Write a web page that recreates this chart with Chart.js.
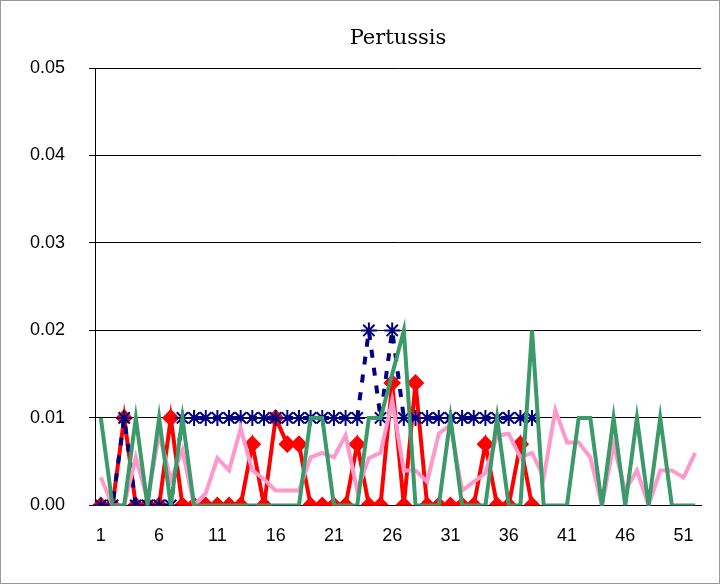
<!DOCTYPE html>
<html><head><script src="https://cdn.jsdelivr.net/npm/chart.js"></script>
<style>body{margin:0;background:#fff}#w{width:720px;height:584px;position:relative;box-sizing:border-box;border:1px solid #999}</style></head>
<body><div id="w"><canvas id="c" width="718" height="582"></canvas></div>
<script>
const weeks = Array.from({length:52},(_,i)=>String(i+1));
const chartTitle = 'Pertussis';
const green = [0.01,0,0,0.01,0,0.01,0,0.01,0,0,0,0,0,0,0,0,0,0,0.01,0.01,0,0,0,0.01,0.01,0.015,0.02,0,0,0,0.01,0,0,0,0.01,0,0,0.02,0,0,0,0.01,0.01,0,0.01,0,0.01,0,0.01,0,0,0];
const red = [0,0,0.01,0,0,0,0.01,0,0,0,0,0,0,0.007,0,0.01,0.007,0.007,0,0,0,0,0.007,0,0,0.014,0,0.014,0,0,0,0,0,0.007,0,0,0.007,0];
const blue = [0,0,0.01,0,0,0,0,0.01,0.01,0.01,0.01,0.01,0.01,0.01,0.01,0.01,0.01,0.01,0.01,0.01,0.01,0.01,0.01,0.02,0.01,0.02,0.01,0.01,0.01,0.01,0.01,0.01,0.01,0.01,0.01,0.01,0.01,0.01];
const pink = [0.0032,0,0,0.0055,0.0006,0.0082,0.0029,0.0063,0,0.0014,0.0054,0.004,0.0088,0.004,0.003,0.0017,0.0017,0.0017,0.0055,0.006,0.0055,0.008,0.0017,0.0054,0.006,0.012,0.004,0.004,0.0027,0.0082,0.0092,0.0017,0.0027,0.0037,0.008,0.0082,0.0055,0.006,0.0032,0.0109,0.0072,0.0072,0.0055,0,0.0069,0.0017,0.004,0,0.004,0.004,0.0032,0.006];
const titlePlugin={id:'ttl',afterDraw(c){const ctx=c.ctx,a=c.chartArea;ctx.save();ctx.font='21px "DejaVu Serif"';ctx.fillStyle='#000';ctx.textAlign='center';ctx.textBaseline='middle';ctx.fillText(chartTitle,(a.left+a.right)/2,38);ctx.restore();}};
new Chart(document.getElementById('c'),{type:'line',plugins:[titlePlugin],
data:{labels:weeks,datasets:[
{data:green,borderColor:'#3a9a6a',borderWidth:4,pointRadius:0,tension:0},
{data:pink,borderColor:'#ff99cc',borderWidth:4,pointRadius:0,tension:0},
{data:blue,borderColor:'#000080',borderWidth:4,borderDash:[8,10],pointStyle:'star',pointRadius:8,pointBorderWidth:2,pointBorderColor:'#000080',tension:0},
{data:red,borderColor:'#ff0000',borderWidth:4,pointStyle:'rectRot',pointRadius:6,pointBackgroundColor:'#ff0000',pointBorderColor:'#ff0000',tension:0}
]},
options:{responsive:false,animation:false,layout:{padding:{left:5,right:18,top:67,bottom:24}},
plugins:{legend:{display:false},title:{display:false}},
scales:{
x:{offset:true,grid:{display:false},border:{color:'#000'},ticks:{autoSkip:false,maxRotation:0,padding:12,color:'#000',font:{family:'Liberation Sans',size:18},callback:(v,i)=>i%5===0?weeks[i]:''}},
y:{min:0,max:0.05,grid:{color:'#000',drawTicks:true,tickLength:6},border:{color:'#000'},ticks:{stepSize:0.01,padding:24,color:'#000',font:{family:'Liberation Sans',size:18},callback:v=>v.toFixed(2)}}
}}});
</script>
</body></html>
